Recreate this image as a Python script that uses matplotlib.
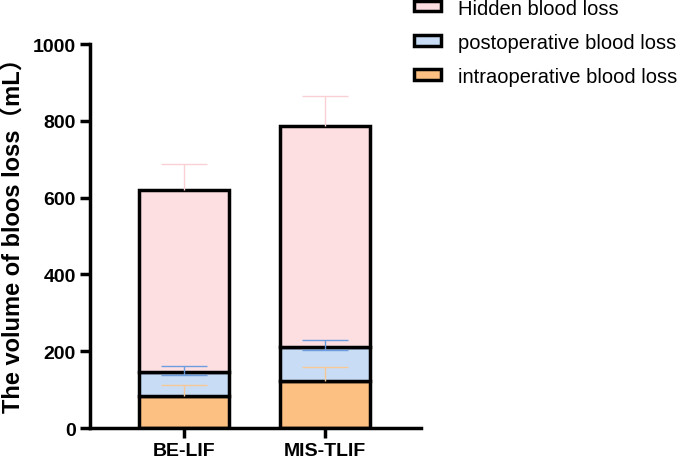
import numpy as np
import matplotlib
matplotlib.use("Agg")
import matplotlib.pyplot as plt
from matplotlib.patches import Patch

groups = ["BE-LIF", "MIS-TLIF"]

# segment heights (mL)
intra = [84, 122]
post = [61, 90]
hidden = [474, 575]

# error bars (upper part), postoperative also shows a short lower cap
intra_err = [27, 38]
post_err = [17, 17]
post_err_low = [6, 9]
hidden_err = [68, 78]

labels = ["intraoperative blood loss", "postoperative blood loss", "Hidden blood loss"]
fills = ["#fdc083", "#c8dcf5", "#fddfe2"]
err_cols = ["#f6c896", "#6b9de0", "#f9d0d4"]

plt.rcParams['font.family'] = ['Liberation Sans', 'Noto Sans CJK SC']

fig = plt.figure(figsize=(6.85, 4.64), dpi=100)
ax = fig.add_axes([0.1314, 0.0754, 0.4832, 0.8276])

x = np.arange(len(groups))
w = 0.64
cap = 0.165
intra = np.array(intra)
post = np.array(post)
hidden = np.array(hidden)

bottoms = [np.zeros(2), intra, intra + post]
heights = [intra, post, hidden]
for h, b, c in zip(heights, bottoms, fills):
    ax.bar(x, h, w, bottom=b, color=c, edgecolor="black", linewidth=2.5, zorder=2)

# error bars: stem up from each segment top plus a cap
tops = [intra, intra + post, intra + post + hidden]
errs = [intra_err, post_err, hidden_err]
for t, e, c in zip(tops, errs, err_cols):
    ax.vlines(x, t, t + np.array(e), color=c, linewidth=1.0, zorder=3)
    ax.hlines(t + np.array(e), x - cap, x + cap, color=c, linewidth=1.0, zorder=3)
# short lower cap for postoperative loss
ax.hlines(tops[1] - np.array(post_err_low), x - cap, x + cap, color=err_cols[1],
          linewidth=1.0, zorder=3)
ax.vlines(x, tops[1] - np.array(post_err_low), tops[1], color=err_cols[1],
          linewidth=1.0, zorder=3)

ax.set_xlim(-0.667, 1.681)
ax.set_ylim(0, 1000)
ax.set_yticks([0, 200, 400, 600, 800, 1000])
ax.set_xticks(x)
ax.set_xticklabels(groups)
for lbl in ax.get_xticklabels() + ax.get_yticklabels():
    lbl.set_fontweight("bold")
    lbl.set_fontsize(14)

ax.spines["top"].set_visible(False)
ax.spines["right"].set_visible(False)
ax.spines["left"].set_linewidth(2.5)
ax.spines["bottom"].set_linewidth(2.5)
ax.tick_params(width=2.5, length=7, pad=3)

ax.set_ylabel("The volume of bloos loss（mL）", fontsize=17, fontweight="bold", labelpad=6)
ax.yaxis.label.set_y(0.52)

handles = [Patch(facecolor=fills[i], edgecolor="black", linewidth=2.5, label=labels[i])
           for i in [2, 1, 0]]
fig.legend(handles=handles, loc="upper left", bbox_to_anchor=(0.578, 1.04),
           frameon=False, fontsize=14.5, handlelength=1.35, handleheight=0.4,
           handletextpad=0.85, labelspacing=0.75)

fig.savefig("out.png", dpi=100)
